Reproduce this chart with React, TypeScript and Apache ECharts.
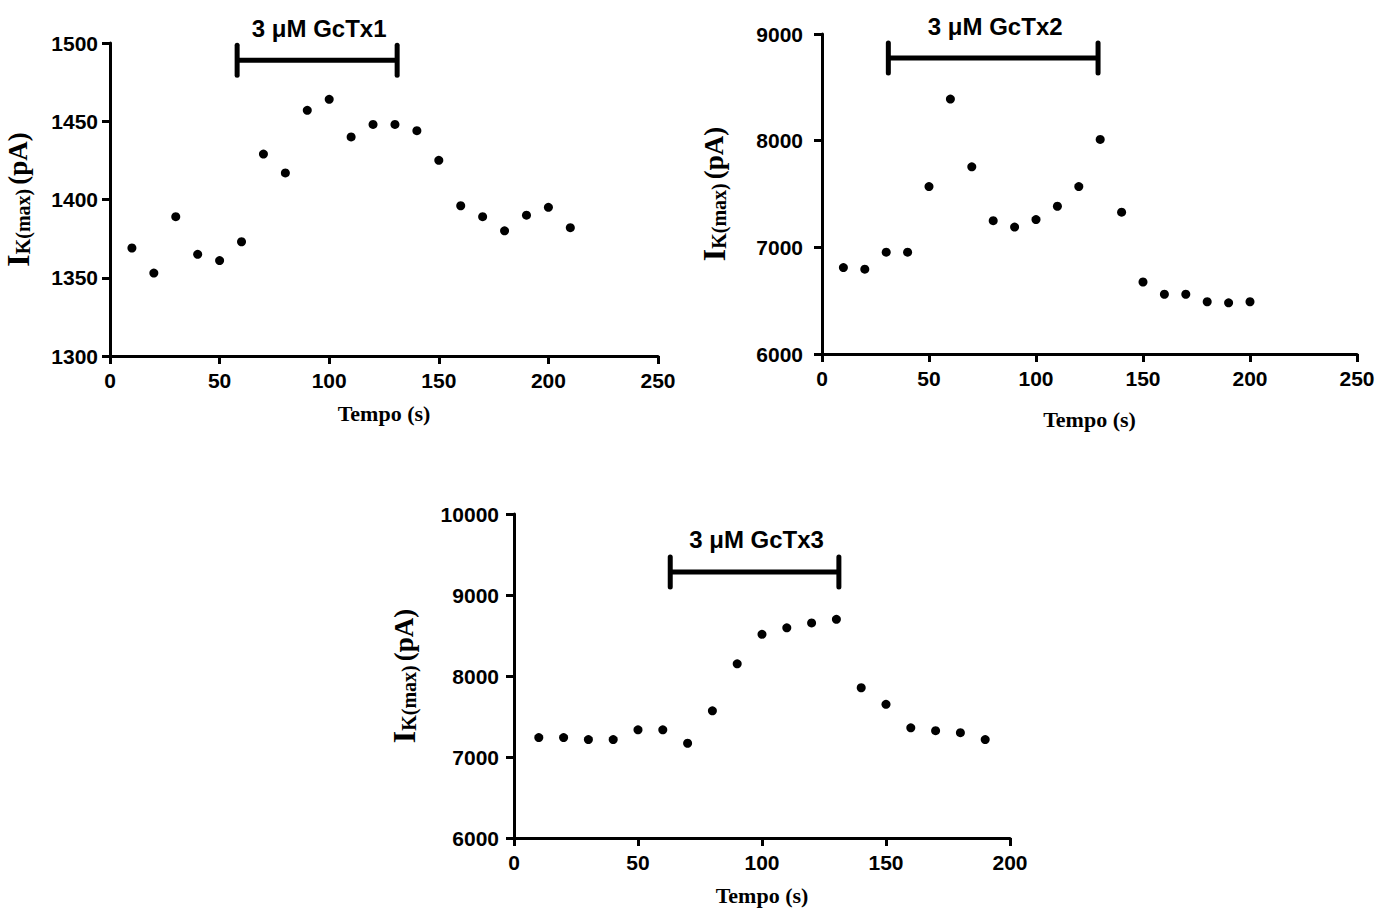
import React, { useEffect, useRef } from "react";
import * as echarts from "echarts";

// ---- Data ----
const time1 = [10, 20, 30, 40, 50, 60, 70, 80, 90, 100, 110, 120, 130, 140, 150, 160, 170, 180, 190, 200, 210];
const current1 = [1369, 1353, 1389, 1365, 1361, 1373, 1429, 1417, 1457, 1464, 1440, 1448, 1448, 1444, 1425, 1396, 1389, 1380, 1390, 1395, 1382];

const time2 = [10, 20, 30, 40, 50, 60, 70, 80, 90, 100, 110, 120, 130, 140, 150, 160, 170, 180, 190, 200];
const current2 = [6810, 6795, 6955, 6955, 7570, 8390, 7755, 7250, 7190, 7260, 7385, 7570, 8012, 7330, 6675, 6560, 6560, 6490, 6480, 6490];

const time3 = [10, 20, 30, 40, 50, 60, 70, 80, 90, 100, 110, 120, 130, 140, 150, 160, 170, 180, 190];
const current3 = [7240, 7240, 7215, 7215, 7335, 7335, 7170, 7570, 8150, 8515, 8595, 8655, 8700, 7855, 7650, 7360, 7325, 7300, 7215];

// treatment bars: [start, end, level]
const treatment1 = [58, 131, 1489];
const treatment2 = [31, 129, 8775];
const treatment3 = [63, 131, 9284];
const treatmentLabels = ["3 μM GcTx1", "3 μM GcTx2", "3 μM GcTx3"];

const yRanges = [
  { min: 1300, max: 1500, interval: 50 },
  { min: 6000, max: 9000, interval: 1000 },
  { min: 6000, max: 10000, interval: 1000 },
];
const xRanges = [
  { min: 0, max: 250, interval: 50 },
  { min: 0, max: 250, interval: 50 },
  { min: 0, max: 200, interval: 50 },
];
const xTitle = "Tempo (s)";

const SANS = "'Liberation Sans', Arial, sans-serif";
const SERIF = "'Liberation Serif', 'Times New Roman', serif";

export default function App() {
  const ref = useRef<HTMLDivElement>(null);

  useEffect(() => {
    if (!ref.current) return;
    const chart = echarts.init(ref.current, undefined, { renderer: "svg" });

    const grids = [
      { left: 110, top: 43, width: 548, height: 313 },
      { left: 822, top: 34, width: 535, height: 320 },
      { left: 514, top: 514, width: 496, height: 324 },
    ];
    const xNameGaps = [46, 54, 46];
    const yNameGaps = [66, 82, 84];
    const yLabelMargins = [12, 19, 15];

    const axisLine = { show: true, lineStyle: { color: "#000", width: 3 } };
    const axisTick = { show: true, length: 8, lineStyle: { color: "#000", width: 3 } };
    const labelStyle = {
      color: "#000",
      fontFamily: SANS,
      fontWeight: "bold",
      fontSize: 21,
      formatter: (v: number) => String(v),
    };

    const xAxes = xRanges.map((r, i) => ({
      type: "value",
      gridIndex: i,
      min: r.min,
      max: r.max,
      interval: r.interval,
      axisLine: { ...axisLine, onZero: false },
      axisTick,
      splitLine: { show: false },
      axisLabel: { ...labelStyle, margin: 14 },
      name: xTitle,
      nameLocation: "middle",
      nameGap: xNameGaps[i],
      nameTextStyle: { color: "#000", fontFamily: SERIF, fontWeight: "bold", fontSize: 22 },
    }));

    const yAxes = yRanges.map((r, i) => ({
      type: "value",
      gridIndex: i,
      min: r.min,
      max: r.max,
      interval: r.interval,
      axisLine: { ...axisLine, onZero: false },
      axisTick,
      splitLine: { show: false },
      axisLabel: { ...labelStyle, margin: yLabelMargins[i] },
      name: "{i|I}{sub|K(max)}{sp| }{pa|(pA)}",
      nameLocation: "middle",
      nameRotate: 90,
      nameGap: yNameGaps[i],
      nameTextStyle: {
        color: "#000",
        fontFamily: SERIF,
        fontWeight: "bold",
        rich: {
          i: { fontFamily: SERIF, fontWeight: "bold", fontSize: 32, color: "#000", padding: [0, 0, 10, 0] },
          sub: { fontFamily: SERIF, fontWeight: "bold", fontSize: 20, color: "#000" },
          sp: { fontFamily: SERIF, fontSize: 16, color: "#000" },
          pa: { fontFamily: SERIF, fontWeight: "bold", fontSize: 27, color: "#000", padding: [0, 0, 10, 0] },
        },
      },
    }));

    const scatter = (times: number[], vals: number[], i: number) => ({
      type: "scatter",
      xAxisIndex: i,
      yAxisIndex: i,
      symbol: "circle",
      symbolSize: 9,
      itemStyle: { color: "#000", opacity: 1 },
      data: times.map((t, k) => [t, vals[k]]),
      z: 3,
    });

    const bracket = (tr: number[], label: string, i: number) => ({
      type: "custom",
      xAxisIndex: i,
      yAxisIndex: i,
      data: [tr],
      renderItem: (params: any, api: any) => {
        const s = api.coord([api.value(0), api.value(2)]);
        const e = api.coord([api.value(1), api.value(2)]);
        const st = { stroke: "#000", lineWidth: 5 };
        return {
          type: "group",
          children: [
            { type: "line", shape: { x1: s[0], y1: s[1], x2: e[0], y2: e[1] }, style: st },
            { type: "line", shape: { x1: s[0], y1: s[1] - 15, x2: s[0], y2: s[1] + 15 }, style: { ...st, lineCap: "round" } },
            { type: "line", shape: { x1: e[0], y1: e[1] - 15, x2: e[0], y2: e[1] + 15 }, style: { ...st, lineCap: "round" } },
            {
              type: "text",
              x: (s[0] + e[0]) / 2 + 2,
              y: s[1] - 32,
              style: {
                text: label,
                fill: "#000",
                font: `bold 24px ${SANS}`,
                align: "center",
                verticalAlign: "middle",
              },
            },
          ],
        };
      },
    });

    chart.setOption({
      animation: false,
      backgroundColor: "#fff",
      grid: grids,
      xAxis: xAxes,
      yAxis: yAxes,
      series: [
        scatter(time1, current1, 0),
        scatter(time2, current2, 1),
        scatter(time3, current3, 2),
        bracket(treatment1, treatmentLabels[0], 0),
        bracket(treatment2, treatmentLabels[1], 1),
        bracket(treatment3, treatmentLabels[2], 2),
      ],
    });

    return () => chart.dispose();
  }, []);

  return (
    <div
      ref={ref}
      style={{ position: "absolute", left: 0, top: 0, width: 1381, height: 911, background: "#fff" }}
    />
  );
}
